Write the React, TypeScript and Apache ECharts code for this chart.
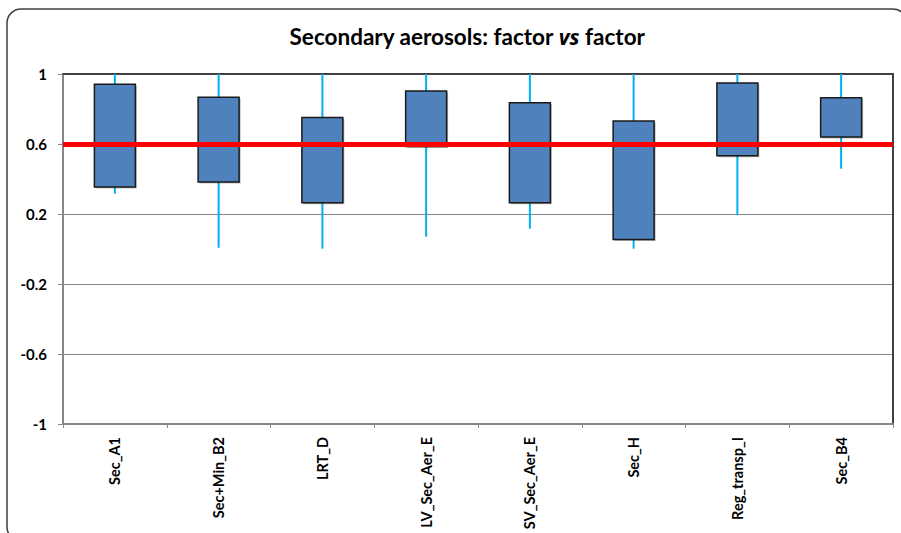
import React, { useEffect, useRef } from "react";
import * as echarts from "echarts";

const categories = ["Sec_A1", "Sec+Min_B2", "LRT_D", "LV_Sec_Aer_E", "SV_Sec_Aer_E", "Sec_H", "Reg_transp_I", "Sec_B4"];
const boxLow = [0.354, 0.383, 0.265, 0.586, 0.265, 0.055, 0.533, 0.64];
const boxHigh = [0.941, 0.867, 0.752, 0.903, 0.836, 0.731, 0.949, 0.865];
const whiskerLow = [0.316, 0.007, 0.002, 0.07, 0.116, 0.002, 0.193, 0.459];
const whiskerHigh = [1, 1, 1, 1, 1, 1, 1, 1];
const threshold = 0.6;
const yTicks = { min: -1, max: 1, interval: 0.4 };

const FONT = "Lato, 'Open Sans', sans-serif";

export default function App() {
  const ref = useRef<HTMLDivElement>(null);
  useEffect(() => {
    if (!ref.current) return;
    const chart = echarts.init(ref.current, null, { renderer: "svg" });
    const data = categories.map((_, i) => [i, boxLow[i], boxHigh[i], whiskerLow[i], whiskerHigh[i]]);
    chart.setOption({
      animation: false,
      backgroundColor: "#ffffff",
      title: {
        text: "{b|Secondary aerosols: factor }{i|vs}{b| factor}",
        left: 462,
        top: 20,
        textAlign: "center",
        textStyle: {
          rich: {
            b: { fontFamily: FONT, fontWeight: "bold", fontSize: 22.5, color: "#000" },
            i: { fontFamily: "'Noto Sans', 'DejaVu Sans', sans-serif", fontWeight: "bold", fontStyle: "italic", fontSize: 21, color: "#000" },
          },
        },
      },
      graphic: [
        {
          type: "rect",
          shape: { x: 7, y: 9, width: 900, height: 532, r: 14 },
          style: { fill: "none", stroke: "#404040", lineWidth: 1.5 },
          silent: true,
          z: -1,
        },
      ],
      grid: { left: 63, right: 8, top: 74, bottom: 109, containLabel: false, outerBoundsMode: "none" },
      xAxis: [
        {
          type: "category",
          data: categories,
          boundaryGap: true,
          axisLine: { onZero: false, lineStyle: { color: "#868686", width: 2 } },
          axisTick: { show: true, length: 4, lineStyle: { color: "#868686", width: 1 } },
          axisLabel: {
            rotate: 90,
            margin: 13,
            fontFamily: FONT,
            fontWeight: "bold",
            fontSize: 14.5,
            color: "#000",
            interval: 0,
          },
          splitLine: { show: false },
        },
        {
          type: "category",
          data: categories,
          position: "top",
          axisLine: { show: true, onZero: false, lineStyle: { color: "#404040", width: 2 } },
          axisTick: { show: false },
          axisLabel: { show: false },
        },
      ],
      yAxis: [
        {
          type: "value",
          min: yTicks.min,
          max: yTicks.max,
          interval: yTicks.interval,
          axisLine: { show: true, onZero: false, lineStyle: { color: "#868686", width: 2 } },
          axisTick: { show: true, length: 5, lineStyle: { color: "#868686", width: 1 } },
          axisLabel: {
            margin: 16,
            fontFamily: FONT,
            fontWeight: "bold",
            fontSize: 15,
            color: "#000",
            formatter: (v: number) => String(Math.round(v * 10) / 10),
          },
          splitLine: { show: true, lineStyle: { color: "#868686", width: 1 } },
        },
        {
          type: "value",
          position: "right",
          min: yTicks.min,
          max: yTicks.max,
          interval: yTicks.interval,
          axisLine: { show: true, onZero: false, lineStyle: { color: "#404040", width: 2 } },
          axisTick: { show: false },
          axisLabel: { show: false },
          splitLine: { show: false },
        },
      ],
      series: [
        {
          type: "custom",
          xAxisIndex: 0,
          yAxisIndex: 0,
          data,
          clip: true,
          renderItem: (params: any, api: any) => {
            const x = api.value(0);
            const lo = api.value(1);
            const hi = api.value(2);
            const wl = api.value(3);
            const wh = api.value(4);
            const pTop = api.coord([x, hi]);
            const pBot = api.coord([x, lo]);
            const pWl = api.coord([x, wl]);
            const pWh = api.coord([x, wh]);
            const w = api.size([1, 0])[0] * 0.395;
            return {
              type: "group",
              children: [
                {
                  type: "line",
                  shape: { x1: pWl[0], y1: pWl[1], x2: pWh[0], y2: pWh[1] },
                  style: { stroke: "#00b0f0", lineWidth: 2 },
                },
                {
                  type: "rect",
                  shape: { x: pTop[0] - w / 2 + 1.5, y: pTop[1] + 1.5, width: w, height: pBot[1] - pTop[1] },
                  style: { fill: "rgba(0,0,0,0.28)" },
                },
                {
                  type: "rect",
                  shape: { x: pTop[0] - w / 2, y: pTop[1], width: w, height: pBot[1] - pTop[1] },
                  style: { fill: "#4f81bd", stroke: "#1a1a1a", lineWidth: 1.5 },
                },
              ],
            };
          },
          markLine: {
            silent: true,
            symbol: "none",
            label: { show: false },
            lineStyle: { color: "#ff0000", width: 5, type: "solid" },
            data: [{ yAxis: threshold }],
            z: 10,
          },
          z: 3,
        },
      ],
    });
    return () => chart.dispose();
  }, []);
  return <div ref={ref} style={{ position: "fixed", left: 0, top: 0, width: 901, height: 533 }} />;
}
